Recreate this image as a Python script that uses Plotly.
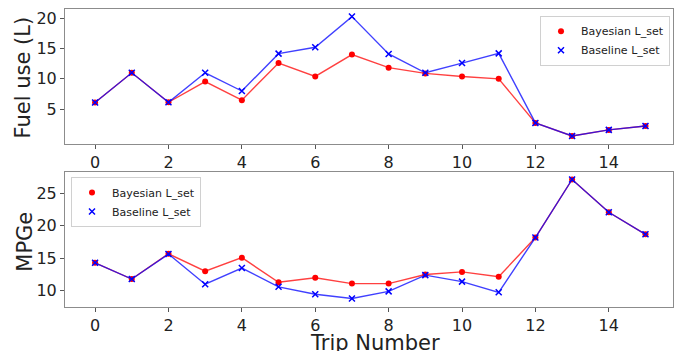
import plotly.graph_objects as go

trips = list(range(16))
fuel_bayes = [6.1, 11.0, 6.15, 9.55, 6.5, 12.6, 10.4, 14.0, 11.85, 10.9, 10.4, 10.0, 2.75, 0.6, 1.6, 2.25]
fuel_base = [6.1, 11.0, 6.15, 11.0, 8.0, 14.15, 15.2, 20.25, 14.1, 11.0, 12.6, 14.2, 2.75, 0.6, 1.6, 2.25]
mpge_bayes = [14.3, 11.8, 15.7, 13.0, 15.1, 11.3, 12.0, 11.1, 11.1, 12.5, 12.9, 12.15, 18.2, 27.15, 22.1, 18.7]
mpge_base = [14.3, 11.8, 15.65, 11.0, 13.5, 10.6, 9.45, 8.8, 9.9, 12.4, 11.4, 9.75, 18.2, 27.15, 22.1, 18.7]
x_ticks = [0, 2, 4, 6, 8, 10, 12, 14]
fuel_ticks = [5, 10, 15, 20]
mpge_ticks = [10, 15, 20, 25]

RED = "#ff0000"
BLUE = "#0000ff"
RED_L = "rgba(255,0,0,0.75)"
BLUE_L = "rgba(0,0,255,0.75)"
FONT = "DejaVu Sans"

fig = go.Figure()

def add_pair(yb, ybase, xa, ya, leg):
    fig.add_trace(go.Scatter(x=trips, y=yb, mode="lines", line=dict(color=RED_L, width=1.4),
                             xaxis=xa, yaxis=ya, showlegend=False, hoverinfo="skip"))
    fig.add_trace(go.Scatter(x=trips, y=yb, mode="markers", name="Bayesian L_set",
                             marker=dict(color=RED, size=6, symbol="circle"),
                             xaxis=xa, yaxis=ya, legend=leg))
    fig.add_trace(go.Scatter(x=trips, y=ybase, mode="lines", line=dict(color=BLUE_L, width=1.4),
                             xaxis=xa, yaxis=ya, showlegend=False, hoverinfo="skip"))
    fig.add_trace(go.Scatter(x=trips, y=ybase, mode="markers", name="Baseline L_set",
                             marker=dict(color=BLUE, size=6, symbol="x-thin", line=dict(color=BLUE, width=1.5)),
                             xaxis=xa, yaxis=ya, legend=leg))

add_pair(fuel_bayes, fuel_base, "x", "y", "legend")
add_pair(mpge_bayes, mpge_base, "x2", "y2", "legend2")

axis_common = dict(showline=True, mirror=True, linecolor="#8c8c8c", linewidth=1,
                   showgrid=False, zeroline=False, ticks="outside", ticklen=4, automargin=False,
                   tickcolor="#555", tickfont=dict(family=FONT, size=16, color="#222"))

H_PLOT = 351 - 9 - 44

def py(pix):
    return (307 - pix) / H_PLOT

def px(pix):
    return (pix - 65) / 608

fig.update_layout(
    width=675, height=351,
    margin=dict(l=65, r=2, t=9, b=44, autoexpand=False),
    paper_bgcolor="white", plot_bgcolor="white",
    font=dict(family=FONT, color="#222"),
    xaxis=dict(axis_common, range=[-0.82, 15.75], tickvals=x_ticks, anchor="y", domain=[0, 1]),
    yaxis=dict(axis_common, range=[-0.72, 21.5], tickvals=fuel_ticks, domain=[0.547, 1.0], anchor="x"),
    xaxis2=dict(axis_common, range=[-0.82, 15.75], tickvals=x_ticks, anchor="y2", domain=[0, 1]),
    yaxis2=dict(axis_common, range=[7.49, 28.3], tickvals=mpge_ticks, domain=[0, 0.453], anchor="x2"),
    legend=dict(x=px(670), y=py(15.7), xanchor="right", yanchor="top", bgcolor="white",
                bordercolor="#d0d0d0", borderwidth=1, font=dict(family=FONT, size=11, color="#222"),
                itemwidth=30, tracegroupgap=0),
    legend2=dict(x=px(71), y=py(177), xanchor="left", yanchor="top", bgcolor="white",
                 bordercolor="#d0d0d0", borderwidth=1, font=dict(family=FONT, size=11, color="#222"),
                 itemwidth=30, tracegroupgap=0),
    annotations=[
        dict(text="Fuel use (L)", textangle=-90, xref="paper", yref="paper",
             x=px(22), y=py(77.5), xanchor="center", yanchor="middle", showarrow=False,
             font=dict(family=FONT, size=21, color="#222")),
        dict(text="MPGe", textangle=-90, xref="paper", yref="paper",
             x=px(25), y=py(241.7), xanchor="center", yanchor="middle", showarrow=False,
             font=dict(family=FONT, size=21, color="#222")),
        dict(text="Trip Number", xref="paper", yref="paper",
             x=px(375), y=py(343), xanchor="center", yanchor="middle", showarrow=False,
             font=dict(family=FONT, size=21, color="#222")),
    ],
)

fig.write_html("out.html", config={"displayModeBar": False},
               post_script="document.body.style.margin='0';document.body.style.overflow='hidden';")
